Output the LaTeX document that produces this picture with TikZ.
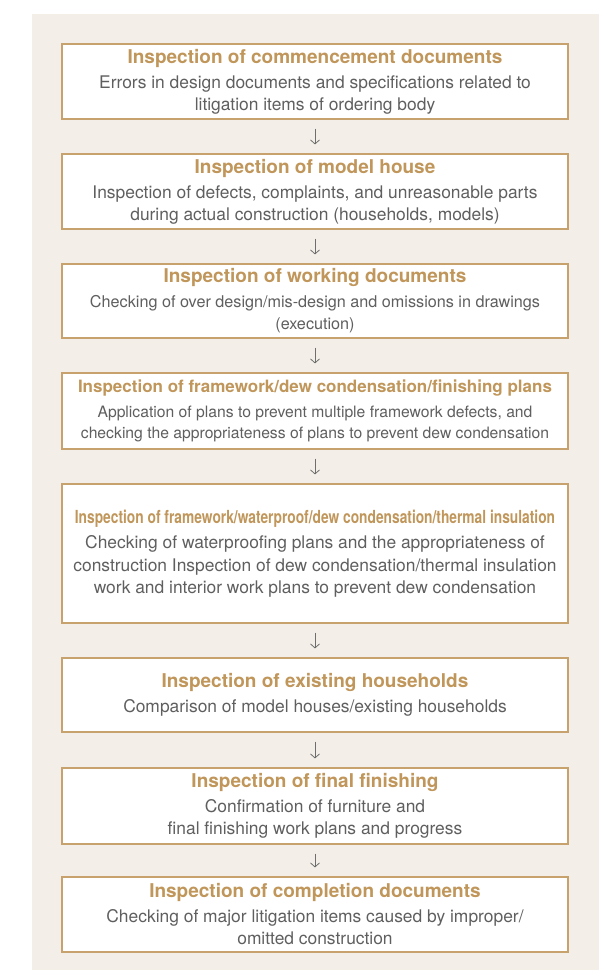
\documentclass[tikz,border=0pt]{standalone}
\usepackage{fontspec}
\setmainfont{TeX Gyre Heros}
\usetikzlibrary{arrows.meta}
\definecolor{panel}{RGB}{243,239,232}
\definecolor{boxline}{RGB}{200,162,108}
\definecolor{titlebrown}{RGB}{192,150,90}
\definecolor{bodygray}{RGB}{95,95,95}
\definecolor{arrowgray}{RGB}{110,110,110}
\newcommand{\stagetitle}[2][19]{{\color{titlebrown}\fontsize{#1}{22}\selectfont\bfseries #2}}

\begin{document}
\begin{tikzpicture}[x=1pt,y=1pt,>={Straight Barb[length=4pt,width=9pt]},
  stage/.style={draw=boxline,line width=1.1pt,fill=white,minimum width=506pt,align=center,
    font=\fontsize{17.4}{22}\selectfont,text=bodygray,inner sep=0pt},
  flow/.style={->,draw=arrowgray,line width=0.8pt,shorten <=9pt,shorten >=9pt}]
\useasboundingbox (0,0) rectangle (613,970);
\fill[panel] (32,0) rectangle (599,956);
% stages, top to bottom
\node[stage,minimum height=75pt] (commence) at (315,888.5) {\stagetitle{Inspection of commencement documents}\\[3pt]
  Errors in design documents and specifications related to\\ litigation items of ordering body};
\node[stage,minimum height=75pt] (model) at (315,778.5) {\stagetitle{Inspection of model house}\\[3pt]
  Inspection of defects, complaints, and unreasonable parts\\ during actual construction (households, models)};
\node[stage,minimum height=74pt,font=\fontsize{16.2}{22}\selectfont] (working) at (315,669) {\stagetitle{Inspection of working documents}\\[3pt]
  Checking of over design/mis-design and omissions in drawings\\ (execution)};
\node[stage,minimum height=76pt,font=\fontsize{15.7}{21}\selectfont] (frame) at (315,559) {\stagetitle[17]{Inspection of framework/dew condensation/finishing plans}\\[4pt]
  Application of plans to prevent multiple framework defects, and\\ checking the appropriateness of plans to prevent dew condensation};
\node[stage,minimum height=139pt,font=\fontsize{17.4}{22.5}\selectfont] (waterproof) at (315,416.5) {\stagetitle[18]{\scalebox{0.765}[1]{Inspection of framework/waterproof/dew condensation/thermal insulation}}\\[3pt]
  Checking of waterproofing plans and the appropriateness of\\ construction Inspection of dew condensation/thermal insulation\\ work and interior work plans to prevent dew condensation};
\node[stage,minimum height=74pt] (existing) at (315,275) {\stagetitle{Inspection of existing households}\\[3pt]
  Comparison of model houses/existing households};
\node[stage,minimum height=76pt] (finish) at (315,164) {\stagetitle{Inspection of final finishing}\\[3pt]
  Confirmation of furniture and\\ final finishing work plans and progress};
\node[stage,minimum height=75pt] (complete) at (315,55.5) {\stagetitle{Inspection of completion documents}\\[3pt]
  Checking of major litigation items caused by improper/\\ omitted construction};
% arrows between stages
\draw[flow] (commence) -- (model);
\draw[flow] (model) -- (working);
\draw[flow] (working) -- (frame);
\draw[flow] (frame) -- (waterproof);
\draw[flow] (waterproof) -- (existing);
\draw[flow] (existing) -- (finish);
\draw[flow] (finish) -- (complete);
\end{tikzpicture}
\end{document}
